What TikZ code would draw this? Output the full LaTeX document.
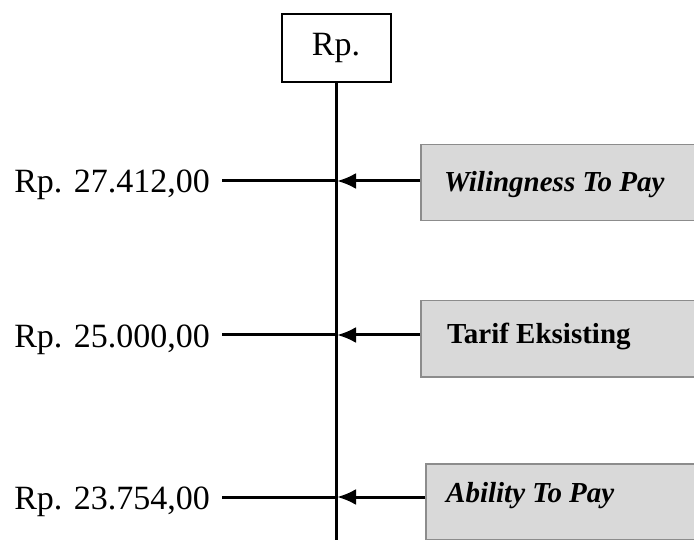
\documentclass[tikz,border=0pt]{standalone}
\usepackage{fontspec}
\setmainfont{Liberation Serif}
\usetikzlibrary{arrows.meta,positioning}
\begin{document}
\begin{tikzpicture}[x=1pt,y=-1pt,
  axis/.style={line width=3pt},
  pointer/.style={axis,-{Latex[length=19pt,width=16pt]}},
  pricebox/.style={draw=black!45,fill=black!15,line width=1.5pt,minimum width=300pt,minimum height=76pt,inner sep=0pt,anchor=north west},
  boxtext/.style={font=\fontsize{29}{33}\selectfont\bfseries,anchor=base west,inner sep=0pt},
  price/.style={font=\fontsize{34}{40}\selectfont,anchor=base east,inner sep=0pt}]
\useasboundingbox (0,0) rectangle (694,540);
\clip (0,0) rectangle (694,540);
% top box and axis
\node [draw,line width=2pt,minimum width=109pt,minimum height=68pt,inner sep=0pt,font=\fontsize{34}{40}\selectfont] (rp) at (336,48) {Rp.};
\draw [axis] (rp.south) -- (336,545);
% willingness to pay
\coordinate (a1) at (337,181);
\coordinate (l1) at (222,181);
\node [price] (p1) at (210,193) {Rp. 27.412,00};
\node [pricebox] (wtp) at (420,144) {};
\node [boxtext] at ([xshift=24pt,yshift=-48pt]wtp.north west) {\itshape Wilingness To Pay};
\draw [axis] (l1) -- (a1);
\draw [pointer] (wtp.west |- a1) -- (a1);
% tarif eksisting
\coordinate (a2) at (337,335);
\coordinate (l2) at (222,335);
\node [price] (p2) at (210,347) {Rp. 25.000,00};
\node [pricebox] (te) at (420,300) {};
\node [boxtext] at ([xshift=27pt,yshift=-43pt]te.north west) {Tarif Eksisting};
\draw [axis] (l2) -- (a2);
\draw [pointer] (te.west |- a2) -- (a2);
% ability to pay
\coordinate (a3) at (337,497);
\coordinate (l3) at (222,497);
\node [price] (p3) at (210,509) {Rp. 23.754,00};
\node [pricebox] (atp) at (425,463) {};
\node [boxtext] at ([xshift=21pt,yshift=-39pt]atp.north west) {\itshape Ability To Pay};
\draw [axis] (l3) -- (a3);
\draw [pointer] (atp.west |- a3) -- (a3);
\end{tikzpicture}
\end{document}
